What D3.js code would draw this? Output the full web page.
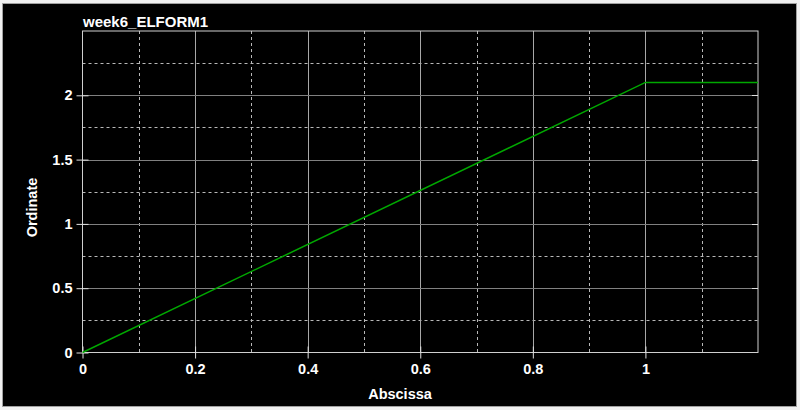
<!DOCTYPE html>
<html><head><meta charset="utf-8">
<script src="https://cdn.jsdelivr.net/npm/d3@7"></script>
<style>html,body{margin:0;padding:0;background:#f0f0f0;}svg{display:block;}</style>
</head><body>
<svg id="c" width="800" height="410"></svg>
<script>
const title = "week6_ELFORM1";
const xLabel = "Abscissa";
const yLabel = "Ordinate";
const xs = [0, 1, 1.2];
const ys = [0, 2.1, 2.1];
const xMajorTicks = [0, 0.2, 0.4, 0.6, 0.8, 1];
const xGridSolid = [0.2, 0.4, 0.6, 0.8, 1];
const xGridDashed = [0.1, 0.3, 0.5, 0.7, 0.9, 1.1];
const yMajorTicks = [0, 0.5, 1, 1.5, 2];
const yGridSolid = [0.5, 1, 1.5, 2];
const yGridDashed = [0.25, 0.75, 1.25, 1.75, 2.25];
const xDomain = [0, 1.2];
const yDomain = [0, 2.5];

const svg = d3.select("#c");
const font = "'Liberation Sans', Arial, sans-serif";
svg.append("rect").attr("x", 0).attr("y", 0).attr("width", 800).attr("height", 410).attr("fill", "#f0f0f0");
svg.append("rect").attr("x", 2.5).attr("y", 3.5).attr("width", 794).attr("height", 403)
  .attr("fill", "#000").attr("stroke", "#a0a0a0");

const L = 82.5, R = 758, T = 31, B = 352.5;
const x = d3.scaleLinear().domain(xDomain).range([L, R]);
const y = d3.scaleLinear().domain(yDomain).range([B, T]);

const g = svg.append("g");
// dashed grid
g.selectAll(".xd").data(xGridDashed).join("line")
  .attr("x1", d => Math.round(x(d)) + 0.5).attr("x2", d => Math.round(x(d)) + 0.5)
  .attr("y1", T).attr("y2", B).attr("stroke", "#b8b8b8").attr("stroke-dasharray", "3,3");
g.selectAll(".yd").data(yGridDashed).join("line")
  .attr("y1", d => Math.round(y(d)) + 0.5).attr("y2", d => Math.round(y(d)) + 0.5)
  .attr("x1", L).attr("x2", R).attr("stroke", "#b8b8b8").attr("stroke-dasharray", "3,3");
// solid grid
g.selectAll(".xs").data(xGridSolid).join("line")
  .attr("x1", d => Math.round(x(d)) + 0.5).attr("x2", d => Math.round(x(d)) + 0.5)
  .attr("y1", T).attr("y2", B).attr("stroke", "#a8a8a8");
g.selectAll(".ys").data(yGridSolid).join("line")
  .attr("y1", d => Math.round(y(d)) + 0.5).attr("y2", d => Math.round(y(d)) + 0.5)
  .attr("x1", L).attr("x2", R).attr("stroke", "#808080");

// frame
svg.append("rect").attr("x", L).attr("y", T).attr("width", R - L).attr("height", B - T)
  .attr("fill", "none").attr("stroke", "#d0d0d0");

// axes
const xAxis = d3.axisBottom(x).tickValues(xMajorTicks).tickSize(6).tickPadding(5)
  .tickFormat(d3.format("~g"));
const ax = svg.append("g").attr("transform", `translate(0,${B})`).call(xAxis);
ax.select(".domain").remove();
ax.selectAll(".tick line").attr("stroke", "#e0e0e0").attr("y1", -6);
ax.selectAll(".tick text").attr("fill", "#fff").attr("font-family", font).attr("font-weight", "bold").attr("font-size", "14.5px");

const yAxis = d3.axisLeft(y).tickValues(yMajorTicks).tickSize(6).tickPadding(4)
  .tickFormat(d3.format("~g"));
const ay = svg.append("g").attr("transform", `translate(${L},0)`).call(yAxis);
ay.select(".domain").remove();
ay.selectAll(".tick line").attr("stroke", "#e0e0e0").attr("x1", 6);
ay.selectAll(".tick text").attr("fill", "#fff").attr("font-family", font).attr("font-weight", "bold").attr("font-size", "14.5px");

// right-side inner ticks
svg.selectAll(".rt").data(yMajorTicks.slice(1)).join("line")
  .attr("x1", R - 6).attr("x2", R).attr("y1", d => Math.round(y(d)) + 0.5).attr("y2", d => Math.round(y(d)) + 0.5)
  .attr("stroke", "#e0e0e0");

// line
const pts = xs.map((v, i) => [v, ys[i]]);
svg.append("path").datum(pts)
  .attr("d", d3.line().x(d => x(d[0])).y(d => y(d[1])))
  .attr("fill", "none").attr("stroke", "#00a800").attr("stroke-width", 1.5);

// texts
svg.append("text").attr("x", 83).attr("y", 26.5).text(title)
  .attr("fill", "#fff").attr("font-family", font).attr("font-weight", "bold").attr("font-size", "15px");
svg.append("text").attr("x", 400).attr("y", 398.5).attr("text-anchor", "middle").text(xLabel)
  .attr("fill", "#fff").attr("font-family", font).attr("font-weight", "bold").attr("font-size", "14.5px");
svg.append("text").attr("transform", "translate(36.5,207.5) rotate(-90)").attr("text-anchor", "middle").text(yLabel)
  .attr("fill", "#fff").attr("font-family", font).attr("font-weight", "bold").attr("font-size", "14.5px");
</script>
</body></html>
